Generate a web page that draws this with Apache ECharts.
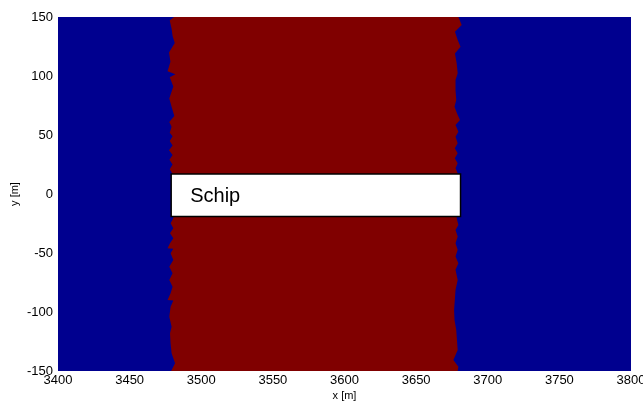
<!DOCTYPE html>
<html><head><meta charset="utf-8">
<script src="https://cdn.jsdelivr.net/npm/echarts@6/dist/echarts.min.js"></script>
<style>html,body{margin:0;padding:0;background:#fff}#c{width:643px;height:401px}</style>
</head><body><div id="c"></div>
<script>
// Axis ranges
var xRange = [3400, 3800];
var yRange = [-150, 150];
var xTicks = [3400, 3450, 3500, 3550, 3600, 3650, 3700, 3750, 3800];
var yTicks = [-150, -100, -50, 0, 50, 100, 150];

// Left boundary of the red band (y, x)
var leftEdgeY = [150, 147, 140, 134, 128, 120, 112, 104, 101.5, 99, 91, 81, 74, 66, 61, 57, 52, 49, 45, 41, 37, 33, 29, 25, 21, 17,
  -20.6, -24.8, -29, -33.3, -37.5, -41.7, -46, -46.5, -50.2, -56, -61.6, -67.2, -72.9, -78.5, -84.2, -89.8, -90.3, -95.5, -104, -112.5, -118, -126.6, -135, -143.5, -150];
var leftEdgeX = [3481, 3478, 3479.3, 3480, 3481.5, 3477.5, 3478.5, 3476.5, 3482, 3478, 3480.5, 3477.7, 3479.3, 3481.2, 3477.7, 3479.3, 3478, 3480, 3478, 3480, 3477.5, 3480, 3477.8, 3480, 3478, 3480,
  3480.5, 3478.6, 3480.5, 3478.2, 3480.5, 3478.2, 3476.5, 3480.5, 3478.6, 3480.5, 3477.7, 3480, 3477.7, 3480, 3478.6, 3476.5, 3480.5, 3478.6, 3477.7, 3479.3, 3478.2, 3478.6, 3479.3, 3481.7, 3479];

// Right boundary of the red band (y, x)
var rightEdgeY = [150, 143.2, 137.5, 130.5, 124.8, 119, 110.8, 102.3, 96.6, 88, 79.7, 74, 68.4, 62.7, 58.5, 52.8, 48.6, 43, 38.7, 34.5, 30.3, 26, 21.8, 17.5,
  -20.6, -26.3, -30.5, -36, -41.7, -47.3, -53, -58.6, -64.3, -72.9, -81.3, -89.8, -98.3, -106.8, -115.3, -123.8, -132.2, -140.7, -146.3, -150];
var rightEdgeX = [3679.5, 3681.8, 3677.1, 3679, 3681, 3677.1, 3678.3, 3679, 3677.5, 3677.5, 3678, 3676.8, 3678.5, 3680.6, 3677.5, 3679.5, 3677.5, 3679, 3677, 3679, 3677, 3679, 3677.5, 3679,
  3678.3, 3679.5, 3677.5, 3679, 3677.5, 3679, 3677.5, 3679.5, 3677.5, 3679, 3677.5, 3677, 3676.5, 3676.8, 3678, 3678.5, 3679, 3676, 3679.5, 3679];

// Ship box
var shipX = [3479, 3681];
var shipY = [-19, 17];
var shipLabel = 'Schip';

var chart = echarts.init(document.getElementById('c'), null, {renderer: 'canvas'});
var font = 'Liberation Sans, Arial, Helvetica, sans-serif';
chart.setOption({
  animation: false,
  grid: {left: 58, right: 12, top: 17, bottom: 30, show: true, backgroundColor: '#00008F', borderWidth: 0,
         containLabel: false, outerBoundsMode: 'none'},
  xAxis: {
    type: 'value', min: xRange[0], max: xRange[1], interval: 50,
    name: 'x [m]', nameLocation: 'middle', nameGap: 19, nameMoveOverlap: false,
    nameTextStyle: {color: '#000', fontSize: 11, fontFamily: font},
    axisLine: {show: false}, axisTick: {show: false}, splitLine: {show: false},
    axisLabel: {color: '#000', fontSize: 13, fontFamily: font, margin: 3, formatter: function (v) { return String(v); }}
  },
  yAxis: {
    type: 'value', min: yRange[0], max: yRange[1], interval: 50,
    name: 'y [m]', nameLocation: 'middle', nameGap: 38, nameMoveOverlap: false,
    nameTextStyle: {color: '#000', fontSize: 11, fontFamily: font},
    axisLine: {show: false}, axisTick: {show: false}, splitLine: {show: false},
    axisLabel: {color: '#000', fontSize: 13, fontFamily: font, margin: 5, formatter: function (v) { return String(v); }}
  },
  series: [
    {
      type: 'custom', data: [[0]], clip: true, silent: true,
      renderItem: function (params, api) {
        var pts = [];
        for (var i = 0; i < leftEdgeY.length; i++) pts.push(api.coord([leftEdgeX[i], leftEdgeY[i]]));
        for (var j = rightEdgeY.length - 1; j >= 0; j--) pts.push(api.coord([rightEdgeX[j], rightEdgeY[j]]));
        return {type: 'polygon', shape: {points: pts}, style: {fill: '#800000'}};
      }
    },
    {
      type: 'custom', data: [[0]], silent: true,
      renderItem: function (params, api) {
        var p1 = api.coord([shipX[0], shipY[1]]);
        var p2 = api.coord([shipX[1], shipY[0]]);
        return {
          type: 'group',
          children: [
            {type: 'rect', shape: {x: p1[0], y: p1[1], width: p2[0] - p1[0], height: p2[1] - p1[1]},
             style: {fill: '#fff', stroke: '#000', lineWidth: 1.5}},
            {type: 'text', style: {x: p1[0] + 19, y: (p1[1] + p2[1]) / 2 + 1, text: shipLabel,
              fill: '#000', font: '20px ' + font, textVerticalAlign: 'middle', verticalAlign: 'middle'}}
          ]
        };
      }
    }
  ]
});
</script></body></html>
